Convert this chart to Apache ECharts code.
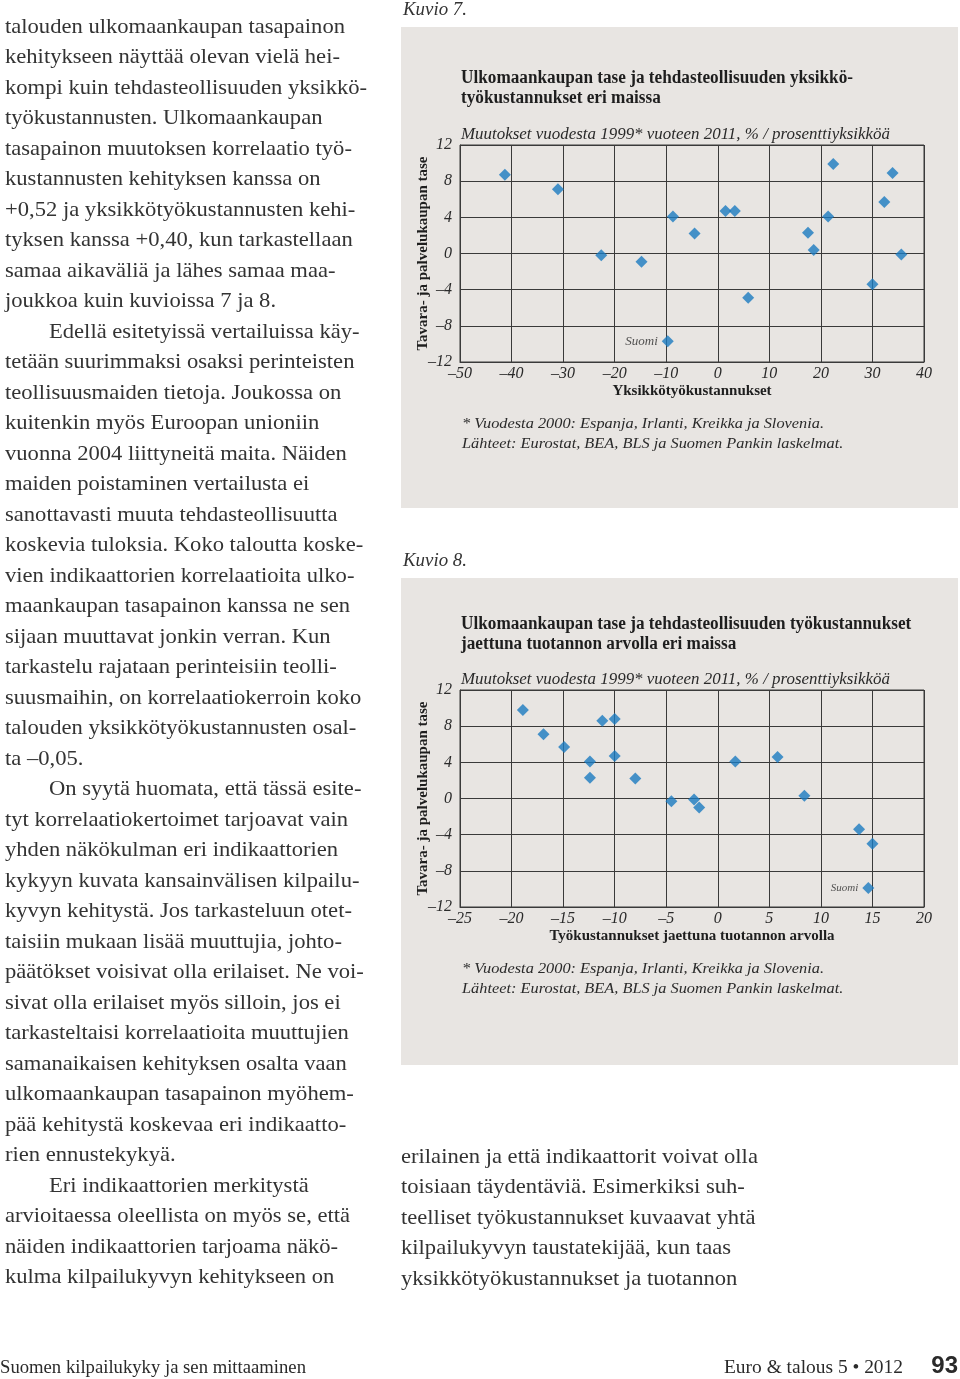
<!DOCTYPE html>
<html><head><meta charset="utf-8">
<script src="https://cdn.jsdelivr.net/npm/echarts@6/dist/echarts.min.js"></script>
<style>html,body{margin:0;padding:0;background:#fff}#c{width:960px;height:1379px}</style>
</head><body><div id="c"></div>
<script>
// ---------- DATA ----------
// Kuvio 7: unit labour costs (x) vs trade balance (y)
const fig7X = [-41.3, -31.0, -22.6, -14.8, -8.7, -4.5, 1.5, 3.3, 5.9, 17.5, 18.6, 21.4, 22.4, 30.0, 32.3, 33.9, 35.6];
const fig7Y = [8.7, 7.1, -0.2, -0.9, 4.1, 2.2, 4.7, 4.7, -4.9, 2.3, 0.4, 4.1, 9.9, -3.4, 5.7, 8.9, -0.1];
const fig7Suomi = [-9.7, -9.7];
// Kuvio 8: labour costs divided by value of production (x) vs trade balance (y)
const fig8X = [-18.9, -16.9, -14.9, -12.4, -12.4, -11.2, -10.0, -10.0, -8.0, -4.5, -2.3, -1.8, 1.7, 5.8, 8.4, 13.7, 15.0];
const fig8Y = [9.8, 7.1, 5.7, 4.1, 2.3, 8.6, 8.8, 4.7, 2.2, -0.3, -0.1, -1.0, 4.1, 4.6, 0.3, -3.4, -5.0];
const fig8Suomi = [14.6, -9.9];
// axis ranges [min, max, interval]
const fig7XRange = [-50, 40, 10];
const fig8XRange = [-25, 20, 5];
const yRange = [-12, 12, 4];

// ---------- TEXTS ----------
const leftLines = [
 "talouden ulkomaankaupan tasapainon",
 "kehitykseen näyttää olevan vielä hei-",
 "kompi kuin tehdasteollisuuden yksikkö-",
 "työkustannusten. Ulkomaankaupan",
 "tasapainon muutoksen korrelaatio työ-",
 "kustannusten kehityksen kanssa on",
 "+0,52 ja yksikkötyökustannusten kehi-",
 "tyksen kanssa +0,40, kun tarkastellaan",
 "samaa aikaväliä ja lähes samaa maa-",
 "joukkoa kuin kuvioissa 7 ja 8.",
 "\tEdellä esitetyissä vertailuissa käy-",
 "tetään suurimmaksi osaksi perinteisten",
 "teollisuusmaiden tietoja. Joukossa on",
 "kuitenkin myös Euroopan unioniin",
 "vuonna 2004 liittyneitä maita. Näiden",
 "maiden poistaminen vertailusta ei",
 "sanottavasti muuta tehdasteollisuutta",
 "koskevia tuloksia. Koko taloutta koske-",
 "vien indikaattorien korrelaatioita ulko-",
 "maankaupan tasapainon kanssa ne sen",
 "sijaan muuttavat jonkin verran. Kun",
 "tarkastelu rajataan perinteisiin teolli-",
 "suusmaihin, on korrelaatiokerroin koko",
 "talouden yksikkötyökustannusten osal-",
 "ta –0,05.",
 "\tOn syytä huomata, että tässä esite-",
 "tyt korrelaatiokertoimet tarjoavat vain",
 "yhden näkökulman eri indikaattorien",
 "kykyyn kuvata kansainvälisen kilpailu-",
 "kyvyn kehitystä. Jos tarkasteluun otet-",
 "taisiin mukaan lisää muuttujia, johto-",
 "päätökset voisivat olla erilaiset. Ne voi-",
 "sivat olla erilaiset myös silloin, jos ei",
 "tarkasteltaisi korrelaatioita muuttujien",
 "samanaikaisen kehityksen osalta vaan",
 "ulkomaankaupan tasapainon myöhem-",
 "pää kehitystä koskevaa eri indikaatto-",
 "rien ennustekykyä.",
 "\tEri indikaattorien merkitystä",
 "arvioitaessa oleellista on myös se, että",
 "näiden indikaattorien tarjoama näkö-",
 "kulma kilpailukyvyn kehitykseen on"
];
const rightLines = [
 "erilainen ja että indikaattorit voivat olla",
 "toisiaan täydentäviä. Esimerkiksi suh-",
 "teelliset työkustannukset kuvaavat yhtä",
 "kilpailukyvyn taustatekijää, kun taas",
 "yksikkötyökustannukset ja tuotannon"
];
const fig7Title = ["Ulkomaankaupan tase ja tehdasteollisuuden yksikkö-", "työkustannukset eri maissa"];
const fig8Title = ["Ulkomaankaupan tase ja tehdasteollisuuden työkustannukset", "jaettuna tuotannon arvolla eri maissa"];
const subTitle = "Muutokset vuodesta 1999* vuoteen 2011, % / prosenttiyksikköä";
const notes = ["* Vuodesta 2000: Espanja, Irlanti, Kreikka ja Slovenia.", "Lähteet: Eurostat, BEA, BLS ja Suomen Pankin laskelmat."];
const yName = "Tavara- ja palvelukaupan tase";
const fig7XName = "Yksikkötyökustannukset";
const fig8XName = "Työkustannukset jaettuna tuotannon arvolla";

// ---------- HELPERS ----------
const SERIF = '"Liberation Serif"';
const mctx = document.createElement('canvas').getContext('2d');
function fit(text, font, target) { mctx.font = font; return target / mctx.measureText(text).width; }
function txt(x, y, text, font, scale, extra) {
  return { type: 'text', x: x, y: y, scaleX: scale, silent: true, z: 10,
    style: Object.assign({ text: text, font: font, fill: '#2a2a2a', textAlign: 'left', textVerticalAlign: 'middle', verticalAlign: 'middle' }, extra || {}) };
}
const BODY = '21px ' + SERIF;
const bodyS = fit(leftLines[0], BODY, 340);
const TITLE = 'bold 18px ' + SERIF;
const titleS = fit(fig7Title[0], TITLE, 392);
const SUB = 'italic 16.5px ' + SERIF;
const subS = fit(subTitle, SUB, 429);
const NOTE = 'italic 15.5px ' + SERIF;
const noteS = fit(notes[0], NOTE, 362);
const KUV = 'italic 18px ' + SERIF;
const kuvS = fit('Kuvio 7.', KUV, 64);
const FOOT = '18.5px ' + SERIF;
const footS = fit('Suomen kilpailukyky ja sen mittaaminen', FOOT, 306);
const footS2 = fit('Euro & talous 5 • 2012', FOOT, 179);

const G = [];
// panels
G.push({ type: 'rect', shape: { x: 401, y: 27, width: 557, height: 481 }, style: { fill: '#e8e5e2' }, z: -100, silent: true });
G.push({ type: 'rect', shape: { x: 401, y: 578, width: 557, height: 487 }, style: { fill: '#e8e5e2' }, z: -100, silent: true });
// left column
leftLines.forEach((l, i) => {
  const ind = l.startsWith('\t');
  G.push(txt(ind ? 49 : 5, 27 + i * 30.51, ind ? l.slice(1) : l, BODY, bodyS, { fill: '#333' }));
});
rightLines.forEach((l, i) => G.push(txt(401, 1157 + i * 30.5, l, BODY, bodyS, { fill: '#333' })));
// figure labels
G.push(txt(403, 10.5, 'Kuvio 7.', KUV, kuvS, { fill: '#333' }));
G.push(txt(403, 561.5, 'Kuvio 8.', KUV, kuvS, { fill: '#333' }));
// titles
fig7Title.forEach((l, i) => G.push(txt(461, 78 + i * 20.5, l, TITLE, titleS, { fill: '#1e1e1e' })));
fig8Title.forEach((l, i) => G.push(txt(461, 624 + i * 20.5, l, TITLE, titleS, { fill: '#1e1e1e' })));
G.push(txt(461, 135, subTitle, SUB, subS));
G.push(txt(461, 680, subTitle, SUB, subS));
notes.forEach((l, i) => G.push(txt(462, 424 + i * 19.5, l, NOTE, noteS)));
notes.forEach((l, i) => G.push(txt(462, 969 + i * 19.5, l, NOTE, noteS)));
// footer
G.push(txt(0, 1368, 'Suomen kilpailukyky ja sen mittaaminen', FOOT, footS, { fill: '#2a2a2a' }));
G.push(txt(903, 1368, 'Euro & talous 5 • 2012', FOOT, footS2, { fill: '#2a2a2a', textAlign: 'right' }));
G.push(txt(958, 1366, '93', 'bold 24px "Liberation Sans Narrow", "Liberation Sans"', 1, { fill: '#2a2a2a', textAlign: 'right' }));

const dash = v => String(v).replace('-', '–');
const GRID_C = '#3a3a3a';
function xAx(gi, r, name) {
  return { gridIndex: gi, type: 'value', min: r[0], max: r[1], interval: r[2],
    name: name, nameLocation: 'middle', nameGap: 22,
    nameTextStyle: { fontFamily: SERIF, fontWeight: 'bold', fontSize: 15, color: '#1e1e1e' },
    axisLine: { show: true, onZero: false, lineStyle: { color: GRID_C, width: 1 } },
    axisTick: { show: false },
    splitLine: { show: true, lineStyle: { color: GRID_C, width: 1 } },
    axisLabel: { fontFamily: SERIF, fontStyle: 'italic', fontSize: 16, color: '#2a2a2a', margin: 4, formatter: dash } };
}
function yAx(gi) {
  return { gridIndex: gi, type: 'value', min: yRange[0], max: yRange[1], interval: yRange[2],
    name: yName, nameLocation: 'middle', nameGap: 29, nameRotate: 90, nameMoveOverlap: false,
    nameTextStyle: { fontFamily: SERIF, fontWeight: 'bold', fontSize: 15, color: '#1e1e1e' },
    axisLine: { show: true, onZero: false, lineStyle: { color: GRID_C, width: 1 } },
    axisTick: { show: false },
    splitLine: { show: true, lineStyle: { color: GRID_C, width: 1 } },
    axisLabel: { fontFamily: SERIF, fontStyle: 'italic', fontSize: 16, color: '#2a2a2a', margin: 8, formatter: dash } };
}
const BLUE = '#1a7bc0';
function pts(xs, ys) { return xs.map((x, i) => [x, ys[i]]); }
function scat(gi, data) {
  return { type: 'scatter', xAxisIndex: gi, yAxisIndex: gi, data: data, symbol: 'diamond', symbolSize: 12,
    itemStyle: { color: BLUE }, silent: true };
}
function suomi(gi, p, fs) {
  return { type: 'scatter', xAxisIndex: gi, yAxisIndex: gi, data: [p], symbol: 'diamond', symbolSize: 12,
    itemStyle: { color: BLUE }, silent: true,
    label: { show: true, position: 'left', distance: 4, formatter: 'Suomi', fontFamily: SERIF, fontStyle: 'italic', fontSize: fs, color: '#2a2a2a' } };
}

const chart = echarts.init(document.getElementById('c'), null, { renderer: 'canvas' });
chart.setOption({
  animation: false,
  backgroundColor: '#ffffff',
  grid: [
    { left: 460, top: 145, width: 464, height: 217, show: true, borderColor: GRID_C, borderWidth: 1, backgroundColor: 'transparent' },
    { left: 460, top: 690, width: 464, height: 217, show: true, borderColor: GRID_C, borderWidth: 1, backgroundColor: 'transparent' }
  ],
  xAxis: [xAx(0, fig7XRange, fig7XName), xAx(1, fig8XRange, fig8XName)],
  yAxis: [yAx(0), yAx(1)],
  series: [
    scat(0, pts(fig7X, fig7Y)), suomi(0, fig7Suomi, 13),
    scat(1, pts(fig8X, fig8Y)), suomi(1, fig8Suomi, 11)
  ],
  graphic: { elements: G }
});
</script></body></html>
